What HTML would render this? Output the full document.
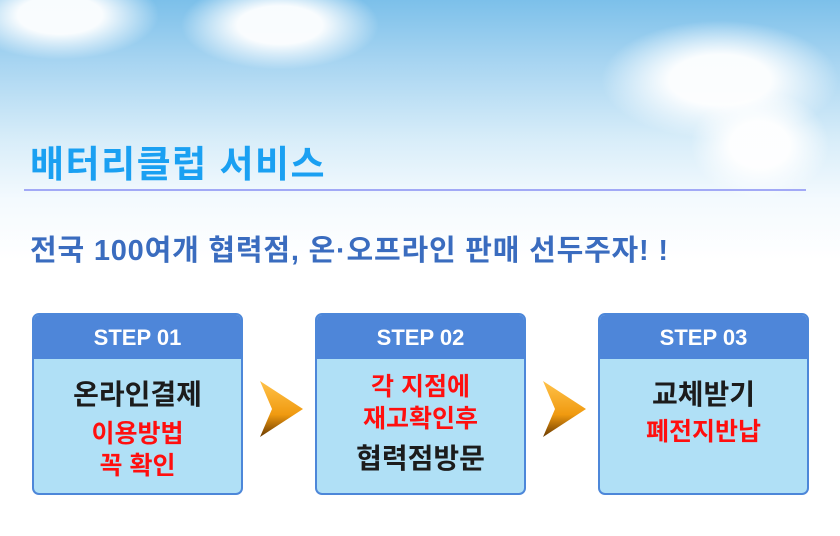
<!DOCTYPE html>
<html><head><meta charset="utf-8"><style>
*{margin:0;padding:0;box-sizing:border-box}
body{width:840px;height:536px;overflow:hidden;position:relative;font-family:"Liberation Sans","Noto Sans CJK KR",sans-serif;
background:linear-gradient(180deg,#7cc0ea 0px,#a6d4f1 60px,#d8edf9 140px,#f4fafe 200px,#fff 260px)}
.cloud{position:absolute;border-radius:50%;background:radial-gradient(ellipse,rgba(255,255,255,.95) 30%,rgba(255,255,255,0) 70%)}
.title{position:absolute;left:30px;top:134px;font-size:37px;color:#1aa0f2;font-weight:bold;letter-spacing:1.5px;white-space:nowrap}
.line{position:absolute;left:24px;top:189px;width:782px;height:2px;background:#a2a9f6}
.sub{position:absolute;left:30px;top:227px;font-size:29px;color:#3a6cbf;font-weight:bold;white-space:nowrap;letter-spacing:0.8px}
.box{position:absolute;top:313px;width:211px;height:182px;border:2px solid #4d87d9;border-radius:7px;background:#b0e0f6;overflow:hidden;text-align:center}
.hd{height:44px;background:#4e86d9;color:#fff;font-weight:bold;font-size:22px;line-height:46px}
.k{color:#1c1c1c;font-size:28px;font-weight:bold;line-height:36px}
.r{color:#ff0f0f;font-size:25px;font-weight:bold;line-height:32px}
.arrow{position:absolute;top:380px;width:46px;height:58px}
</style></head><body>
<div class="cloud" style="left:180px;top:-20px;width:200px;height:90px"></div>
<div class="cloud" style="left:600px;top:20px;width:240px;height:120px"></div>
<div class="cloud" style="left:690px;top:90px;width:140px;height:110px"></div>
<div class="cloud" style="left:-40px;top:-30px;width:200px;height:90px"></div>
<div class="title">배터리클럽 서비스</div>
<div class="line"></div>
<div class="sub">전국 100여개 협력점, 온·오프라인 판매 선두주자! !</div>

<div class="box" style="left:32px"><div class="hd">STEP 01</div>
<div style="padding-top:18px"><div class="k">온라인결제</div><div class="r" style="margin-top:5px">이용방법<br>꼭 확인</div></div></div>

<div class="box" style="left:315px"><div class="hd">STEP 02</div>
<div style="padding-top:12px"><div class="r">각 지점에<br>재고확인후</div><div class="k" style="margin-top:6px">협력점방문</div></div></div>

<div class="box" style="left:598px"><div class="hd">STEP 03</div>
<div style="padding-top:18px"><div class="k">교체받기</div><div class="r" style="margin-top:3px">폐전지반납</div></div></div>

<svg class="arrow" style="left:258px" viewBox="0 0 46 58"><defs><linearGradient id="g" x1="0" y1="0" x2="0" y2="1"><stop offset="0" stop-color="#ffc24a"/><stop offset=".6" stop-color="#f09a10"/><stop offset="1" stop-color="#6a3a00"/></linearGradient></defs><polygon points="2,1 45,29 2,57 14,29" fill="url(#g)"/></svg>
<svg class="arrow" style="left:541px" viewBox="0 0 46 58"><polygon points="2,1 45,29 2,57 14,29" fill="url(#g)"/></svg>
</body></html>
